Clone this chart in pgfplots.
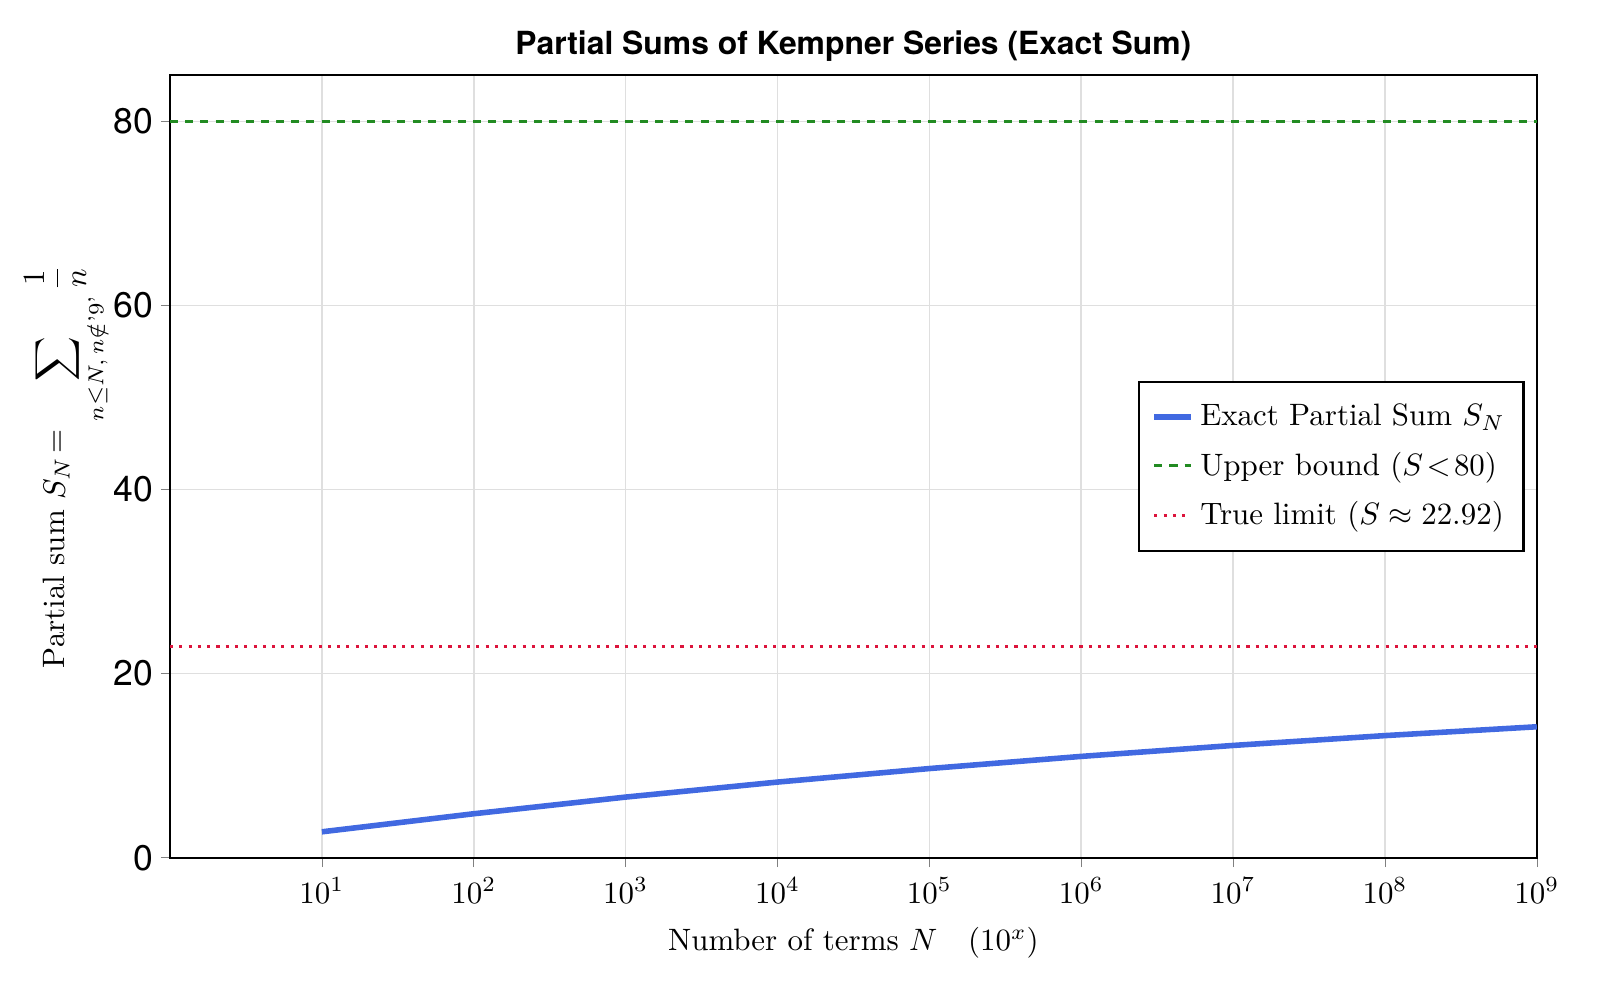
\documentclass[border=0pt]{standalone}
\usepackage{amsmath}
\usepackage{fontspec}
\newfontfamily\heros{TeX Gyre Heros}
\usepackage{pgfplots}
\pgfplotsset{compat=1.18}
\definecolor{royal}{RGB}{65,105,225}
\definecolor{forest}{RGB}{34,139,34}
\definecolor{crim}{RGB}{220,20,60}
\begin{document}
\begin{tikzpicture}
\begin{axis}[
  name=main,
  scale only axis,
  width=15.53cm, height=8.89cm,
  xmode=log, log basis x=10,
  xmin=1, xmax=1e9, ymin=0, ymax=85,
  xtick={10,100,1000,10000,100000,1000000,10000000,100000000,1000000000},
  ytick={0,20,40,60,80},
  yticklabel style={font=\heros\fontsize{11.5}{13}\selectfont, /pgf/number format/assume math mode=true, xshift=1pt},
  xticklabel style={font=\normalsize},
  grid=major, grid style={gray!25, line width=0.5pt},
  tick align=outside, tick pos=left,
  major tick length=3pt,
  axis line style={line width=0.7pt},
  title={\heros\bfseries\fontsize{10.3}{12}\selectfont Partial Sums of Kempner Series (Exact Sum)},
  title style={yshift=-5pt},
  xlabel={\normalsize Number of terms $N$\quad$(10^x)$},
  xlabel style={yshift=-1pt},
  ylabel={\normalsize Partial sum $S_N\!= \displaystyle\sum_{n\leq N,\, n\notin \text{'9'}} \frac{1}{n}$},
  ylabel style={yshift=-6pt},
  legend style={at={(0.991,0.5)}, anchor=east, draw=black, line width=0.7pt, font=\normalsize, row sep=3pt, inner xsep=4pt, inner ysep=5pt},
  legend cell align=left,
  legend image code/.code={\draw[#1] (0cm,0cm) -- (0.42cm,0cm);},
]
\addplot[royal, line width=1.8pt] coordinates {
 (10,2.818) (100,4.78) (1000,6.59) (10000,8.22) (100000,9.69) (1000000,11.01) (10000000,12.20) (100000000,13.27) (1000000000,14.23)};
\addlegendentry{Exact Partial Sum $S_N$}
\addplot[forest, line width=1pt, dash pattern=on 2.6pt off 2.3pt] coordinates {(1,80) (1e9,80)};
\addlegendentry{Upper bound ($S\!<\!80$)}
\addplot[crim, line width=1pt, dash pattern=on 1pt off 2pt] coordinates {(1,22.92) (1e9,22.92)};
\addlegendentry{True limit ($S\approx22.92$)}
\end{axis}
\pgfresetboundingbox
\path[use as bounding box] (main.south west) ++(-1.932cm,-1.614cm) rectangle ++(18.18cm,11.36cm);
\end{tikzpicture}
\end{document}
